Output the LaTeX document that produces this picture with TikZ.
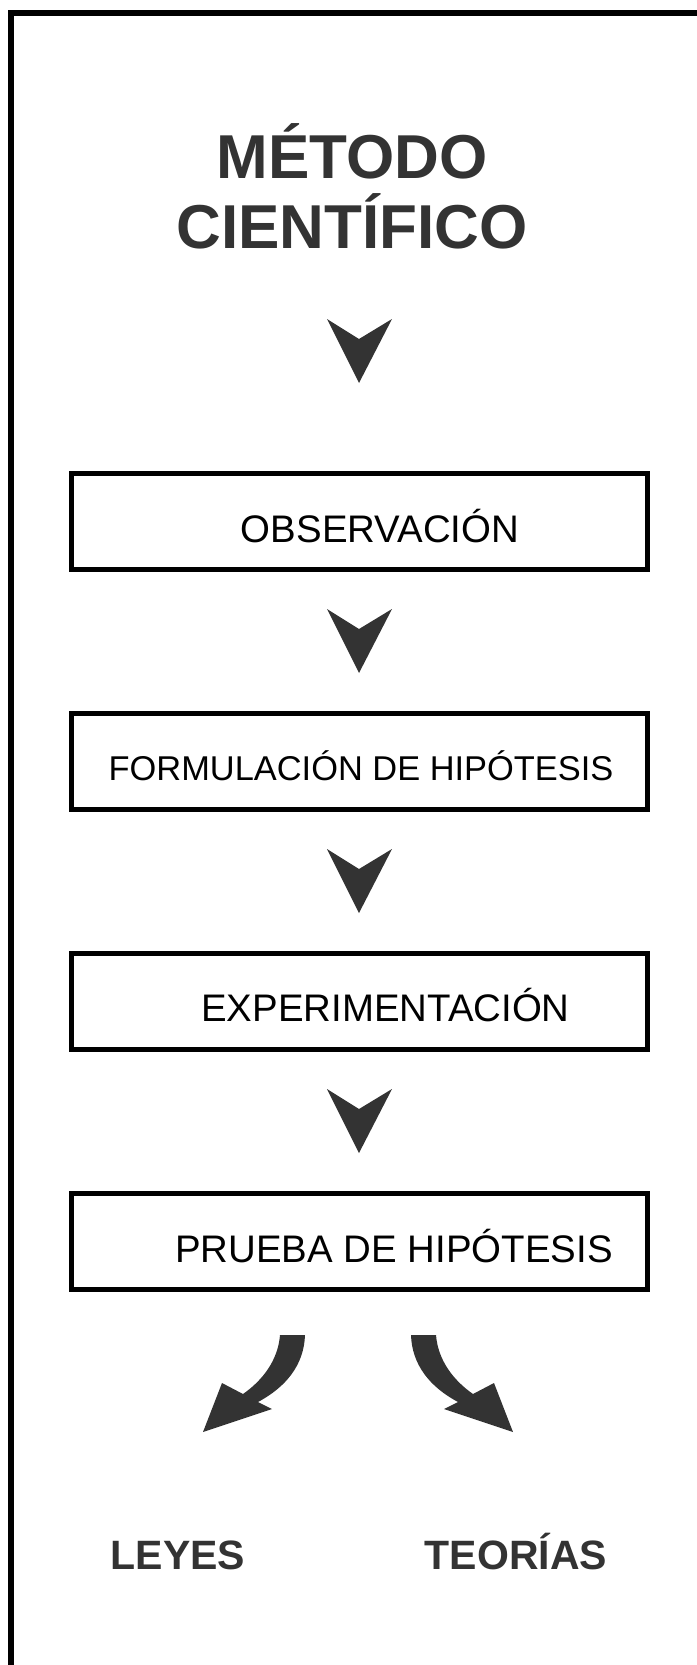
\documentclass[tikz,border=0pt]{standalone}
\usepackage{fontspec}
\setmainfont{Liberation Sans}
\definecolor{ink}{HTML}{333333}
\begin{document}
\begin{tikzpicture}[x=0.5pt,y=-0.5pt,
    box/.style={draw,line width=2.5pt,minimum width=288pt,minimum height=48pt,inner sep=0pt},
    boxtext/.style={anchor=base,font=\fontsize{19.2}{23}\selectfont},
    tag/.style={anchor=base,text=ink,font=\bfseries\fontsize{20.5}{24}\selectfont},
    chevron/.pic={\fill[ink] (-32,0) -- (0,20) -- (33,0) -- (0,64) -- cycle;},
    curl/.pic={\fill[ink] (-53,0) .. controls (-54,30) and (-72,52) .. (-100,67)
      -- (-86,74) -- (-155,97) -- (-136,48) -- (-115,59)
      .. controls (-95,45) and (-80,25) .. (-78,0) -- cycle;}]
  \useasboundingbox (0,0) rectangle (696,1665);
  \draw[line width=3pt] (700,13) -- (11,13) -- (11,1670);
  \node[anchor=base,align=center,text=ink,font=\bfseries\fontsize{31}{35}\selectfont] (title) at (352,248) {MÉTODO\\CIENTÍFICO};
  % pasos
  \node[box] (obsbox) at (359,521.5) {};
  \node[boxtext] (obs) at (380,542) {OBSERVACIÓN};
  \node[box] (hipbox) at (359,761.5) {};
  \node[boxtext,font=\fontsize{17.2}{21}\selectfont] (hip) at (361,780) {FORMULACIÓN DE HIPÓTESIS};
  \node[box] (expbox) at (359,1001.5) {};
  \node[boxtext] (exp) at (385.5,1021) {EXPERIMENTACIÓN};
  \node[box] (prubox) at (359,1241.5) {};
  \node[boxtext] (pru) at (394,1262) {PRUEBA DE HIPÓTESIS};
  \foreach \y in {319,609,849,1089}
    \pic at (359,\y) {chevron};
  % resultados
  \pic at (358,1335) {curl};
  \pic[xscale=-1] at (358,1335) {curl};
  \node[tag] (leyes) at (178,1569) {LEYES};
  \node[tag] (teorias) at (516,1569) {TEORÍAS};
\end{tikzpicture}
\end{document}
